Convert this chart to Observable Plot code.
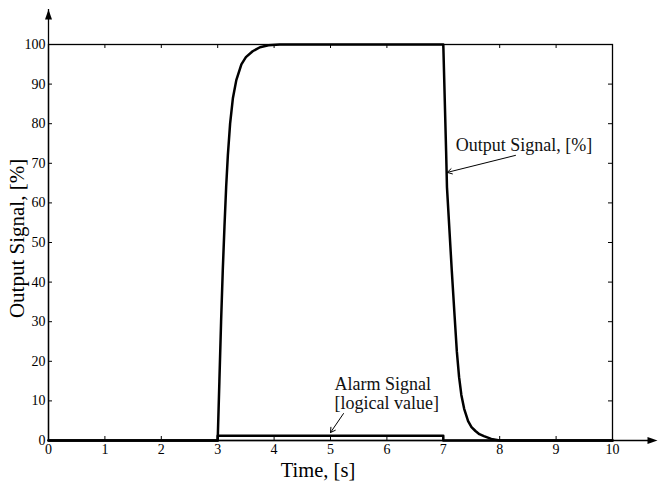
<!DOCTYPE html>
<html>
<head>
<meta charset="utf-8">
<script src="https://cdn.jsdelivr.net/npm/d3@7"></script>
<script src="https://cdn.jsdelivr.net/npm/@observablehq/plot@0.6"></script>
<style>
  html, body { margin: 0; padding: 0; background: #fff; }
  #chart { width: 659px; height: 486px; }
  #chart svg text { font-family: "Liberation Serif", "Times New Roman", serif; }
</style>
</head>
<body>
<div id="chart"></div>
<script>
// ---- Data ----
const xTicks = [0, 1, 2, 3, 4, 5, 6, 7, 8, 9, 10];
const yTicks = [0, 10, 20, 30, 40, 50, 60, 70, 80, 90, 100];

// Output signal, [%] (time in s)
const outTime  = [0, 3, 3.03, 3.06, 3.09, 3.12, 3.15, 3.18, 3.22, 3.27, 3.33, 3.42, 3.5, 3.62, 3.75, 3.9, 4.1, 7, 7.05, 7.065, 7.15, 7.2, 7.24, 7.28, 7.32, 7.37, 7.44, 7.5, 7.57, 7.64, 7.72, 7.85, 8.0, 10];
const outValue = [0, 0, 15, 30, 43, 54, 64, 72, 80, 86.5, 91, 95, 96.8, 98.3, 99.3, 99.8, 100, 100, 73, 64, 43, 31.5, 22.5, 16, 11.5, 8, 4.9, 3.4, 2.4, 1.6, 1.1, 0.4, 0, 0];

// Alarm signal (logical value, drawn on the % scale)
const alarmTime  = [0, 3, 7, 10];
const alarmValue = [0, 1.2, 0, 0];

// Annotations (anchor points in data units)
const annoText  = ["Output Signal, [%]", "Alarm Signal\n[logical value]"];
const annoX     = [7.22, 5.07];
const annoY     = [74.7, 12.0];
const arrowX1   = [8.28, 5.23];
const arrowY1   = [72.0, 6.8];
const arrowX2   = [7.07, 5.0];
const arrowY2   = [67.7, 2.0];

const xLabel = "Time, [s]";
const yLabel = "Output Signal, [%]";

// ---- Build tables ----
const outData = outTime.map((t, i) => ({t, v: outValue[i]}));
const alarmData = alarmTime.map((t, i) => ({t, v: alarmValue[i]}));
const labels = annoText.map((s, i) => ({s, x: annoX[i], y: annoY[i]}));
const arrows = arrowX1.map((x1, i) => ({x1, y1: arrowY1[i], x2: arrowX2[i], y2: arrowY2[i]}));

const W = 659, H = 486, ml = 48, mr = 47, mt = 44, mb = 46;
const fw = W - ml - mr, fh = H - mt - mb;
const tk = 4;
const serif = "Liberation Serif";

const arrowUp = {draw(ctx) { ctx.moveTo(0, -10); ctx.lineTo(3.5, 0); ctx.lineTo(-3.5, 0); ctx.closePath(); }};
const arrowRight = {draw(ctx) { ctx.moveTo(10, 0); ctx.lineTo(0, -3.5); ctx.lineTo(0, 3.5); ctx.closePath(); }};

const chart = Plot.plot({
  width: W,
  height: H,
  marginLeft: ml,
  marginRight: mr,
  marginTop: mt,
  marginBottom: mb,
  style: {fontFamily: serif, fontSize: "14px", color: "#000", background: "#fff"},
  x: {domain: [0, 10]},
  y: {domain: [0, 100]},
  marks: [
    Plot.frame({stroke: "#000", strokeWidth: 1.3}),
    // axis extensions with arrowheads
    Plot.ruleX([0], {x: d => d, insetTop: -35, stroke: "#000", strokeWidth: 1.3}),
    Plot.dot([0], {x: d => d, frameAnchor: "top", dy: -25, symbol: arrowUp, fill: "#000", stroke: null}),
    Plot.ruleY([0], {y: d => d, insetRight: -36, stroke: "#000", strokeWidth: 1.3}),
    Plot.dot([0], {y: d => d, frameAnchor: "right", dx: 35, symbol: arrowRight, fill: "#000", stroke: null}),
    // inward ticks on all four sides
    Plot.tickX(xTicks, {x: d => d, insetTop: fh - tk, stroke: "#000"}),
    Plot.tickX(xTicks, {x: d => d, insetBottom: fh - tk, stroke: "#000"}),
    Plot.tickY(yTicks, {y: d => d, insetRight: fw - tk, stroke: "#000"}),
    Plot.tickY(yTicks, {y: d => d, insetLeft: fw - tk, stroke: "#000"}),
    // tick labels
    Plot.axisX({ticks: xTicks, tickSize: 0, tickPadding: 4, label: null, fontSize: 14, fontFamily: serif}),
    Plot.axisY({ticks: yTicks, tickSize: 0, tickPadding: 3, label: null, fontSize: 14, fontFamily: serif}),
    // axis titles
    Plot.text([xLabel], {text: d => d, frameAnchor: "bottom", dy: 30, dx: -12.5, textAnchor: "middle", lineAnchor: "middle", fontSize: 20.5, fontFamily: serif}),
    Plot.text([yLabel], {text: d => d, frameAnchor: "left", dx: -31, dy: -4, rotate: -90, textAnchor: "middle", lineAnchor: "middle", fontSize: 21, fontFamily: serif}),
    // signals
    Plot.line(alarmData, {x: "t", y: "v", curve: "step-after", stroke: "#000", strokeWidth: 2.5}),
    Plot.line(outData, {x: "t", y: "v", stroke: "#000", strokeWidth: 2.5, strokeLinejoin: "round"}),
    // annotations
    Plot.text(labels, {x: "x", y: "y", text: "s", textAnchor: "start", lineAnchor: "middle", fontSize: 18, lineHeight: 1.07, fill: "#111", fontFamily: serif}),
    Plot.arrow(arrows, {x1: "x1", y1: "y1", x2: "x2", y2: "y2", stroke: "#000", strokeWidth: 1, headLength: 8})
  ]
});

document.getElementById("chart").appendChild(chart);
</script>
</body>
</html>
